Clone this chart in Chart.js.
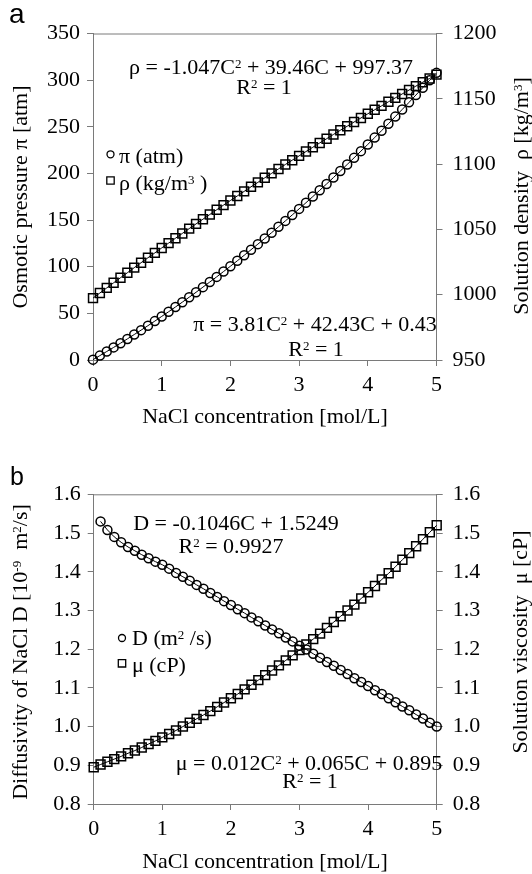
<!DOCTYPE html>
<html lang="en">
<head>
  <meta charset="UTF-8">
  <title>NaCl solution properties</title>
  <script src="https://cdn.jsdelivr.net/npm/chart.js"></script>
  <style>
    html, body { margin: 0; padding: 0; background: #fff; }
    .panel { position: absolute; left: 0; width: 532px; }
    #boxA { top: 0; height: 430px; }
    #boxB { top: 430px; height: 444px; }
  </style>
</head>
<body>
  <div class="panel" id="boxA"><canvas id="chartA"></canvas></div>
  <div class="panel" id="boxB"><canvas id="chartB"></canvas></div>

  <script>
    // --- data ---
    // NaCl concentration [mol/L]
    const conc = [0, 0.1, 0.2, 0.3, 0.4, 0.5, 0.6, 0.7, 0.8, 0.9,
      1.0, 1.1, 1.2, 1.3, 1.4, 1.5, 1.6, 1.7, 1.8, 1.9,
      2.0, 2.1, 2.2, 2.3, 2.4, 2.5, 2.6, 2.7, 2.8, 2.9,
      3.0, 3.1, 3.2, 3.3, 3.4, 3.5, 3.6, 3.7, 3.8, 3.9,
      4.0, 4.1, 4.2, 4.3, 4.4, 4.5, 4.6, 4.7, 4.8, 4.9, 5.0];

    // osmotic pressure pi [atm]
    const piAtm = [0.4, 4.7, 9.1, 13.5, 18.0, 22.6, 27.3, 32.0, 36.8, 41.7,
      46.7, 51.7, 56.8, 62.0, 67.3, 72.6, 78.1, 83.6, 89.1, 94.8,
      100.5, 106.3, 112.2, 118.2, 124.2, 130.3, 136.5, 142.8, 149.1, 155.5,
      162.0, 168.6, 175.2, 181.9, 188.7, 195.6, 202.6, 209.6, 216.7, 223.9,
      231.1, 238.4, 245.8, 253.3, 260.9, 268.5, 276.2, 284.0, 291.9, 299.8, 307.8];

    // solution density rho [kg/m3]
    const rhoKg = [997.4, 1001.3, 1005.2, 1009.1, 1013.0, 1016.8, 1020.7, 1024.5, 1028.3, 1032.0,
      1035.8, 1039.5, 1043.2, 1046.9, 1050.6, 1054.2, 1057.8, 1061.4, 1065.0, 1068.6,
      1072.1, 1075.6, 1079.1, 1082.6, 1086.0, 1089.5, 1092.9, 1096.3, 1099.7, 1103.0,
      1106.3, 1109.6, 1112.9, 1116.2, 1119.4, 1122.7, 1125.9, 1129.0, 1132.2, 1135.3,
      1138.5, 1141.6, 1144.6, 1147.7, 1150.7, 1153.7, 1156.7, 1159.7, 1162.7, 1165.6, 1168.5];

    // diffusivity D starts at 0.1 mol/L
    const concD = [0.1, 0.2, 0.3, 0.4, 0.5, 0.6, 0.7, 0.8, 0.9, 1.0,
      1.1, 1.2, 1.3, 1.4, 1.5, 1.6, 1.7, 1.8, 1.9, 2.0,
      2.1, 2.2, 2.3, 2.4, 2.5, 2.6, 2.7, 2.8, 2.9, 3.0,
      3.1, 3.2, 3.3, 3.4, 3.5, 3.6, 3.7, 3.8, 3.9, 4.0,
      4.1, 4.2, 4.3, 4.4, 4.5, 4.6, 4.7, 4.8, 4.9, 5.0];

    const diffD = [1.530, 1.508, 1.490, 1.476, 1.464, 1.454, 1.444, 1.435, 1.426, 1.418,
      1.408, 1.397, 1.387, 1.377, 1.366, 1.356, 1.345, 1.335, 1.324, 1.314,
      1.303, 1.293, 1.282, 1.272, 1.261, 1.251, 1.241, 1.230, 1.220, 1.209,
      1.199, 1.188, 1.178, 1.167, 1.157, 1.146, 1.136, 1.125, 1.115, 1.105,
      1.094, 1.084, 1.073, 1.063, 1.052, 1.042, 1.031, 1.021, 1.010, 1.000];

    // viscosity mu [cP]
    const viscMu = [0.895, 0.902, 0.909, 0.916, 0.923, 0.931, 0.938, 0.946, 0.955, 0.963,
      0.972, 0.981, 0.990, 1.000, 1.010, 1.020, 1.030, 1.040, 1.051, 1.062,
      1.073, 1.084, 1.096, 1.108, 1.120, 1.133, 1.145, 1.158, 1.171, 1.184,
      1.198, 1.212, 1.226, 1.240, 1.255, 1.270, 1.285, 1.300, 1.315, 1.331,
      1.347, 1.363, 1.380, 1.396, 1.413, 1.431, 1.448, 1.466, 1.484, 1.502, 1.520];

    // tick values
    const concTicks = [0, 1, 2, 3, 4, 5];
    const piTicks = [0, 50, 100, 150, 200, 250, 300, 350];
    const rhoTicks = [950, 1000, 1050, 1100, 1150, 1200];
    const bTicks = [0.8, 0.9, 1.0, 1.1, 1.2, 1.3, 1.4, 1.5, 1.6];

    const SERIF = '"Liberation Serif", "Times New Roman", serif';
    const SANS = '"Liberation Sans", Arial, sans-serif';
    const AXIS_GREY = '#7a7a7a';

    // draw text with {..} parts as superscript
    function drawRich(ctx, str, x, y, opt) {
      const size = opt.size || 22;
      const fam = opt.family || SERIF;
      const supSize = Math.round(size * 0.6);
      const parts = str.split(/(\{[^}]*\})/).filter(s => s.length).map(s =>
        s[0] === '{' ? { t: s.slice(1, -1), sup: true } : { t: s, sup: false });
      const fontOf = p => (p.sup ? supSize : size) + 'px ' + fam;
      let w = 0;
      parts.forEach(p => { ctx.font = fontOf(p); w += ctx.measureText(p.t).width; });
      ctx.save();
      ctx.translate(x, y);
      if (opt.rotate) ctx.rotate(opt.rotate);
      ctx.scale(opt.sx || 1, 1);
      ctx.fillStyle = '#000';
      ctx.textAlign = 'left';
      ctx.textBaseline = 'alphabetic';
      let cx = opt.align === 'center' ? -w / 2 : (opt.align === 'right' ? -w : 0);
      parts.forEach(p => {
        ctx.font = fontOf(p);
        ctx.fillText(p.t, cx, p.sup ? -size * 0.28 : 0);
        cx += ctx.measureText(p.t).width;
      });
      ctx.restore();
    }

    function legendMark(ctx, kind, x, y) {
      ctx.save();
      ctx.strokeStyle = '#000';
      ctx.lineWidth = 1.3;
      ctx.beginPath();
      if (kind === 'circle') ctx.arc(x, y, 3.5, 0, Math.PI * 2);
      else ctx.rect(x - 3.7, y - 3.7, 7.4, 7.4);
      ctx.stroke();
      ctx.restore();
    }

    // frame top line + all the annotation text
    function overlay(id, texts, marks) {
      return {
        id: id,
        afterDraw(chart) {
          const ctx = chart.ctx;
          const a = chart.chartArea;
          ctx.save();
          ctx.strokeStyle = AXIS_GREY;
          ctx.lineWidth = 1;
          ctx.beginPath();
          ctx.moveTo(a.left, a.top + 0.5);
          ctx.lineTo(a.right, a.top + 0.5);
          ctx.stroke();
          ctx.restore();
          marks.forEach(m => legendMark(ctx, m[0], m[1], m[2]));
          texts.forEach(t => drawRich(ctx, t.s, t.x, t.y, t));
        }
      };
    }

    function series(xs, ys, style, radius, axis) {
      return {
        data: xs.map((c, i) => ({ x: c, y: ys[i] })),
        yAxisID: axis,
        showLine: true,
        borderColor: '#000',
        borderWidth: 1,
        pointStyle: style,
        pointRadius: radius,
        pointBorderWidth: 1.5,
        pointBorderColor: '#000',
        pointBackgroundColor: 'rgba(0,0,0,0)',
        clip: false
      };
    }

    function yAxis(pos, ticks, width, fmt) {
      return {
        type: 'linear',
        position: pos,
        min: ticks[0],
        max: ticks[ticks.length - 1],
        afterBuildTicks: s => { s.ticks = ticks.map(v => ({ value: v })); },
        afterFit: s => { s.width = width; },
        ticks: {
          color: '#000',
          font: { family: SERIF, size: 22 },
          padding: pos === 'left' ? 7 : 10,
          callback: fmt
        },
        grid: { drawOnChartArea: false, tickLength: 6, color: AXIS_GREY },
        border: { color: AXIS_GREY }
      };
    }

    function xAxis() {
      return {
        type: 'linear',
        min: 0,
        max: 5,
        afterBuildTicks: s => { s.ticks = concTicks.map(v => ({ value: v })); },
        afterFit: s => { s.height = 70; },
        ticks: { color: '#000', font: { family: SERIF, size: 22 }, padding: 6, maxRotation: 0 },
        grid: { drawOnChartArea: false, tickLength: 6, color: AXIS_GREY },
        border: { color: AXIS_GREY }
      };
    }

    const commonOpts = {
      responsive: true,
      maintainAspectRatio: false,
      animation: false,
      plugins: { legend: { display: false }, tooltip: { enabled: false } }
    };

    // ---------- panel a ----------
    const textsA = [
      { s: 'a', x: 9, y: 23, size: 28, family: SANS },
      { s: 'ρ = -1.047C{2} + 39.46C + 997.37', x: 271, y: 74, align: 'center' },
      { s: 'R{2} = 1', x: 264, y: 94, align: 'center' },
      { s: 'π = 3.81C{2} + 42.43C + 0.43', x: 315, y: 331, align: 'center' },
      { s: 'R{2} = 1', x: 316, y: 356, align: 'center' },
      { s: 'π (atm)', x: 119, y: 163 },
      { s: 'ρ (kg/m{3} )', x: 119, y: 190 },
      { s: 'NaCl concentration [mol/L]', x: 265, y: 423, align: 'center' },
      { s: 'Osmotic pressure π [atm]', x: 27, y: 197, align: 'center', rotate: -Math.PI / 2 },
      { s: 'Solution density  ρ [kg/m{3}]', x: 528, y: 196, align: 'center', rotate: -Math.PI / 2 }
    ];
    const marksA = [['circle', 110.5, 154.3], ['rect', 110.5, 180.5]];

    new Chart(document.getElementById('chartA'), {
      type: 'scatter',
      data: {
        datasets: [
          series(conc, piAtm, 'circle', 4.5, 'yL'),
          series(conc, rhoKg, 'rect', 6.3, 'yR')
        ]
      },
      options: Object.assign({}, commonOpts, {
        layout: { padding: { top: 33.5, left: 0, right: 0, bottom: 0 } },
        scales: {
          x: xAxis(),
          yL: yAxis('left', piTicks, 93),
          yR: yAxis('right', rhoTicks, 95.5)
        }
      }),
      plugins: [overlay('annoA', textsA, marksA)]
    });

    // ---------- panel b (canvas starts at page y = 430) ----------
    const textsB = [
      { s: 'b', x: 10, y: 55, size: 25, family: SANS },
      { s: 'D = -0.1046C + 1.5249', x: 236, y: 100, align: 'center' },
      { s: 'R{2} = 0.9927', x: 231, y: 123, align: 'center' },
      { s: 'μ = 0.012C{2} + 0.065C + 0.895', x: 309, y: 340, align: 'center' },
      { s: 'R{2} = 1', x: 310, y: 358, align: 'center' },
      { s: 'D (m{2} /s)', x: 132, y: 215 },
      { s: 'μ (cP)', x: 132, y: 242 },
      { s: 'NaCl concentration [mol/L]', x: 265, y: 438, align: 'center' },
      { s: 'Diffusivity of NaCl D [10{-9}  m{2}/s]', x: 27, y: 222, align: 'center', rotate: -Math.PI / 2 },
      { s: 'Solution viscosity  μ [cP]', x: 527, y: 212, align: 'center', rotate: -Math.PI / 2 }
    ];
    const marksB = [['circle', 122, 208], ['rect', 122, 233.3]];

    new Chart(document.getElementById('chartB'), {
      type: 'scatter',
      data: {
        datasets: [
          series(concD, diffD, 'circle', 4.5, 'yL'),
          series(conc, viscMu, 'rect', 6.3, 'yR')
        ]
      },
      options: Object.assign({}, commonOpts, {
        layout: { padding: { top: 64.3, left: 0, right: 0, bottom: 0 } },
        scales: {
          x: xAxis(),
          yL: yAxis('left', bTicks, 93.7, v => v.toFixed(1)),
          yR: yAxis('right', bTicks, 95.3, v => v.toFixed(1))
        }
      }),
      plugins: [overlay('annoB', textsB, marksB)]
    });
  </script>
</body>
</html>
